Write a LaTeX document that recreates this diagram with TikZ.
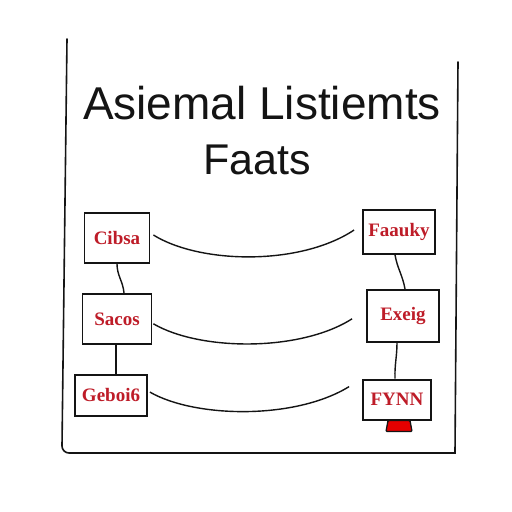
\documentclass[tikz,border=0pt]{standalone}
\usepackage{fontspec}
\setmainfont{Liberation Serif}
\newfontfamily\titlefont{Liberation Sans}
\usepackage{xcolor}
\usetikzlibrary{positioning}

\definecolor{inkred}{RGB}{190,28,40}
\definecolor{ink}{RGB}{20,20,20}

\begin{document}
\begin{tikzpicture}[
  x=1pt, y=-1pt,
  node distance=29pt,
  box/.style={draw=ink, line width=1.8pt, fill=white, inner sep=0pt,
              font=\bfseries\fontsize{19}{21}\selectfont, text=inkred},
  link/.style={draw=ink, line width=1.4pt},
  frame/.style={draw=ink, line width=1.6pt, line cap=round},
  title/.style={font=\titlefont\fontsize{46}{50}\selectfont, text=ink}
]
\useasboundingbox[fill=white] (0,0) rectangle (512,512);

\draw[frame] (67,39) -- (62,446) to[out=-90,in=180] (69,453) -- (455,453) -- (458,62);

\node[title] (head) at (262,103) {Asiemal Listiemts};
\node[title, font=\titlefont\fontsize{43}{47}\selectfont] (sub) at (257,160) {Faats};

\node[box, minimum width=65pt, minimum height=50pt] (cibsa) at (117,238) {Cibsa};
\node[box, minimum width=69pt, minimum height=50pt, below=of cibsa] (sacos) {Sacos};
\node[box, minimum width=72pt, minimum height=41pt, below=of sacos, xshift=-6pt] (geboi) {Geboi6};

\node[box, minimum width=72pt, minimum height=44pt] (faauky) at (399,232) {Faauky};
\node[box, minimum width=72pt, minimum height=52pt, below=34pt of faauky, xshift=4pt] (exeig) {Exeig};
\node[box, minimum width=68pt, minimum height=40pt, below=36pt of exeig, xshift=-6pt] (fynn) {FYNN};

\draw[ink, line width=1.3pt, fill=red!90!black, rounded corners=1pt]
  ([xshift=-9pt]fynn.south) -- ([xshift=13pt]fynn.south)
  -- ([xshift=15pt,yshift=-11pt]fynn.south) -- ([xshift=-11pt,yshift=-11pt]fynn.south) -- cycle;

\draw[link] (cibsa.south) to[out=-90,in=95] ([xshift=7pt]sacos.north);
\draw[link] ([xshift=-1pt]sacos.south) -- ([xshift=5pt]geboi.north);
\draw[link] ([xshift=-4pt]faauky.south) to[out=-80,in=100] ([xshift=2pt]exeig.north);
\draw[link] ([xshift=-6pt]exeig.south) to[out=-90,in=92] ([xshift=-2pt]fynn.north);

\draw[link] ([xshift=3pt,yshift=3pt]cibsa.east) .. controls (200,264) and (300,266) .. ([xshift=-8pt,yshift=2pt]faauky.west);
\draw[link] ([xshift=1pt,yshift=-5pt]sacos.east) .. controls (200,351) and (300,352) .. ([xshift=-14pt,yshift=-3pt]exeig.west);
\draw[link] ([xshift=2pt,yshift=3pt]geboi.east) .. controls (195,418) and (295,420) .. ([xshift=-13pt,yshift=13pt]fynn.west);
\end{tikzpicture}
\end{document}
